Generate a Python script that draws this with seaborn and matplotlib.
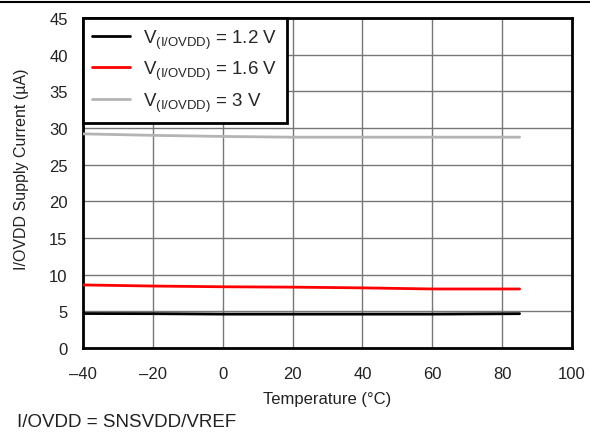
import numpy as np
import pandas as pd
import matplotlib
matplotlib.use("Agg")
import matplotlib.pyplot as plt
import seaborn as sns
from matplotlib.lines import Line2D

temps = [-40, -20, 0, 20, 40, 60, 85]
i_12 = [4.7, 4.68, 4.62, 4.62, 4.62, 4.62, 4.68]
i_16 = [8.6, 8.45, 8.35, 8.3, 8.2, 8.05, 8.05]
i_30 = [29.2, 29.0, 28.85, 28.75, 28.75, 28.75, 28.75]
labels = [r"V$_{\mathregular{(I/OVDD)}}$ = 1.2 V",
          r"V$_{\mathregular{(I/OVDD)}}$ = 1.6 V",
          r"V$_{\mathregular{(I/OVDD)}}$ = 3 V"]
colors = ["#000000", "#ff0000", "#b4b4b4"]
xticks = [-40, -20, 0, 20, 40, 60, 80, 100]
xticklabels = ["\u201340", "\u201320", "0", "20", "40", "60", "80", "100"]
yticks = list(range(0, 50, 5))

df = pd.DataFrame({
    "T": temps * 3,
    "I": i_12 + i_16 + i_30,
    "S": [labels[0]] * 7 + [labels[1]] * 7 + [labels[2]] * 7,
})

sns.set_style("white")
plt.rcParams['font.family'] = ['Liberation Sans', 'DejaVu Sans']
plt.rcParams['mathtext.fontset'] = 'custom'
plt.rcParams['mathtext.rm'] = 'Liberation Sans'

fig = plt.figure(figsize=(5.9, 4.39), dpi=100)
ax = fig.add_axes([0.1407, 0.205, 0.8288, 0.7517])

sns.lineplot(data=df, x="T", y="I", hue="S", palette=dict(zip(labels, colors)),
             linewidth=2, ax=ax, legend=False, zorder=3)

ax.set_xlim(-40, 100)
ax.set_ylim(0, 45)
ax.set_xticks(xticks)
ax.set_xticklabels(xticklabels)
ax.set_yticks(yticks)
ax.grid(True, color="#777777", linewidth=1.0)
for s in ax.spines.values():
    s.set_color("black")
    s.set_linewidth(2)
    s.set_visible(True)
ax.tick_params(axis="both", labelsize=12, colors="#222222", length=0)
ax.tick_params(axis="x", pad=13)
ax.tick_params(axis="y", pad=11)
ax.set_xlabel("Temperature (\u00b0C)", fontsize=12, color="#222222", labelpad=7)
ax.set_ylabel("I/OVDD Supply Current (\u00b5A)", fontsize=11.5, color="#222222")
ax.yaxis.set_label_coords((29 - 83) / 489, 0.545)

handles = [Line2D([0], [0], color=c, linewidth=2) for c in colors]
leg = ax.legend(handles, labels, loc="upper left", fontsize=13.5, frameon=True,
                fancybox=False, borderaxespad=0, handlelength=2.0,
                handletextpad=0.7, borderpad=0.5, labelspacing=0.42)
leg.get_frame().set_edgecolor("black")
leg.get_frame().set_linewidth(2)
leg.get_frame().set_alpha(1)

fig.add_artist(Line2D([0, 1], [0.993, 0.993], color="black", linewidth=1.5,
                      transform=fig.transFigure))
fig.text(17 / 590, 1 - 423 / 439, "I/OVDD = SNSVDD/VREF", fontsize=13.5,
         color="#222222", va="center", ha="left")

fig.savefig("out.png", dpi=100)
